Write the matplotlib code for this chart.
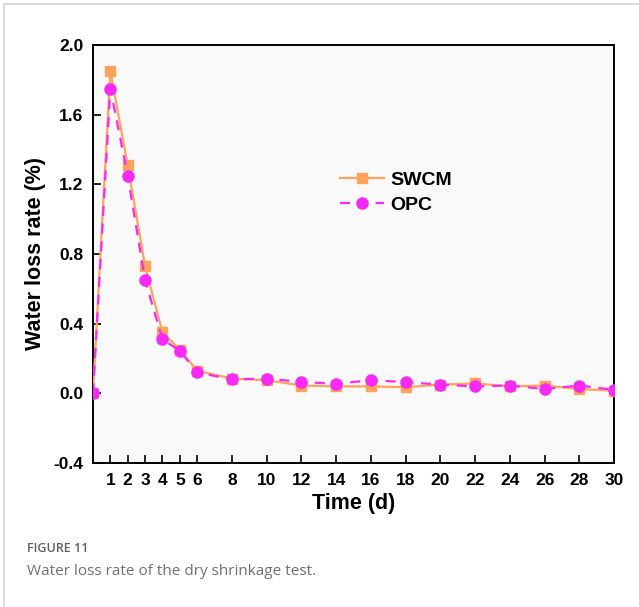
import matplotlib.pyplot as plt
from matplotlib.lines import Line2D

# Data
days = [0, 1, 2, 3, 4, 5, 6, 8, 10, 12, 14, 16, 18, 20, 22, 24, 26, 28, 30]
swcm = [0.0, 1.85, 1.31, 0.73, 0.35, 0.25, 0.13, 0.085, 0.075, 0.045, 0.04, 0.04,
        0.035, 0.05, 0.057, 0.04, 0.045, 0.025, 0.015]
opc = [0.0, 1.75, 1.25, 0.65, 0.31, 0.245, 0.12, 0.08, 0.085, 0.065, 0.055, 0.075,
       0.065, 0.05, 0.04, 0.045, 0.025, 0.045, 0.02]
xtick_vals = [1, 2, 3, 4, 5, 6, 8, 10, 12, 14, 16, 18, 20, 22, 24, 26, 28, 30]
ytick_vals = [-0.4, 0.0, 0.4, 0.8, 1.2, 1.6, 2.0]

plt.rcParams['font.family'] = ['Liberation Sans', 'DejaVu Sans']

fig = plt.figure(figsize=(6.39, 6.07), dpi=100)
ax = fig.add_axes([0.1455, 0.2372, 0.8155, 0.6887])
ax.set_facecolor('#f9f9f9')

ax.plot(days, swcm, color='#ffa35a', linewidth=1.6, marker='s', markersize=7,
        label='SWCM', zorder=3)
ax.plot(days, opc, color='#f629f6', linewidth=1.6, linestyle=(0, (4.5, 3.5)), marker='o',
        markersize=8, label='OPC', zorder=4)

ax.set_xlim(0, 30)
ax.set_ylim(-0.4, 2.0)
ax.set_xticks(xtick_vals)
ax.set_yticks(ytick_vals)
ax.set_yticklabels([f'{v:.1f}' for v in ytick_vals])
ax.tick_params(direction='in', length=6, width=1.2, labelsize=12.5, pad=7)
for lab in ax.get_xticklabels() + ax.get_yticklabels():
    lab.set_fontweight('bold')
for sp in ax.spines.values():
    sp.set_linewidth(1.4)

ax.set_xlabel('Time (d)', fontsize=15.5, fontweight='bold', labelpad=4)
ax.set_ylabel('Water loss rate (%)', fontsize=15.5, fontweight='bold', labelpad=5)

leg = ax.legend(loc='upper left', bbox_to_anchor=(0.44, 0.74), frameon=False,
                prop={'weight': 'bold', 'size': 14}, handlelength=2.3,
                handletextpad=0.3, labelspacing=0.4)

# Figure frame and caption
fig.add_artist(Line2D([0.006, 1.0], [0.993, 0.993], color='#d4d4d4', linewidth=1.2))
fig.add_artist(Line2D([0.006, 0.006], [0.0, 0.993], color='#d4d4d4', linewidth=1.2))
fig.text(0.042, 0.097, 'FIGURE 11', fontsize=9, color='#606060',
         family=['Open Sans', 'DejaVu Sans'], fontweight='semibold', va='center')
fig.text(0.042, 0.059, 'Water loss rate of the dry shrinkage test.', fontsize=11,
         color='#707070', family=['Open Sans', 'DejaVu Sans'], va='center')

fig.savefig('out.png', dpi=100)
